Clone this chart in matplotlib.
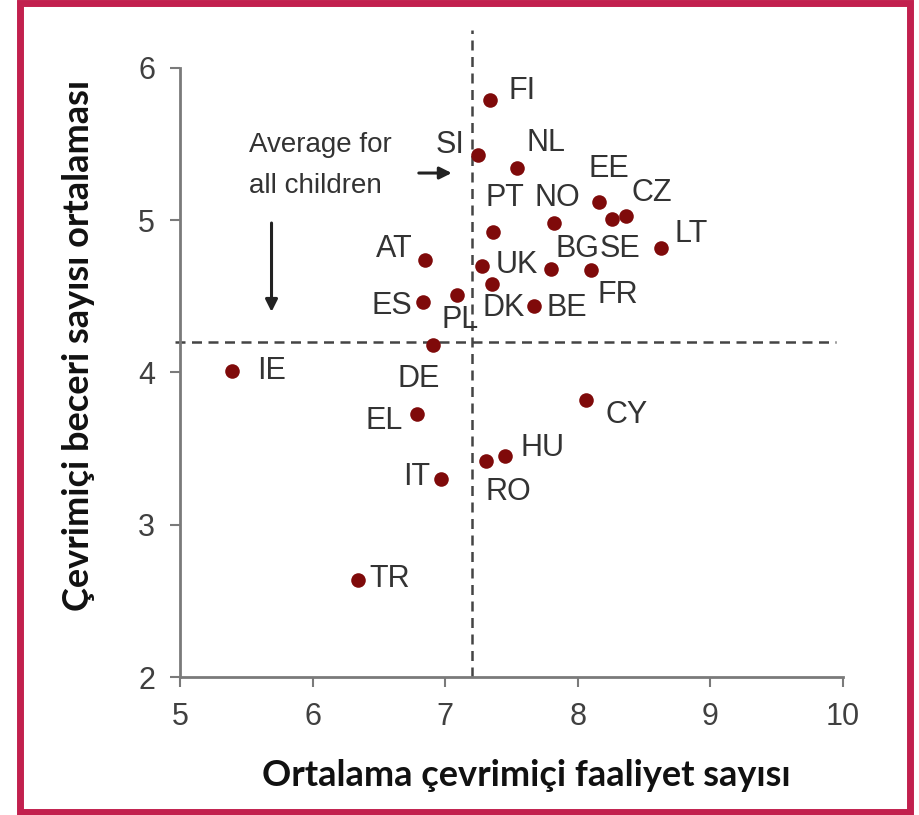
import matplotlib.pyplot as plt
from matplotlib.patches import Rectangle

# data
countries = ['FI', 'SI', 'NL', 'EE', 'CZ', 'SE', 'PT', 'NO', 'BG', 'LT', 'UK', 'FR',
             'DK', 'BE', 'AT', 'ES', 'PL', 'DE', 'IE', 'EL', 'IT', 'RO', 'HU', 'CY', 'TR']
activities = [7.34, 7.25, 7.54, 8.16, 8.36, 8.26, 7.36, 7.82, 7.80, 8.63, 7.28, 8.10,
              7.35, 7.67, 6.85, 6.83, 7.09, 6.91, 5.39, 6.79, 6.97, 7.31, 7.45, 8.06, 6.34]
skills = [5.79, 5.43, 5.34, 5.12, 5.03, 5.01, 4.92, 4.98, 4.68, 4.82, 4.70, 4.67,
          4.58, 4.44, 4.74, 4.46, 4.51, 4.18, 4.01, 3.73, 3.30, 3.42, 3.45, 3.82, 2.64]
avg_activities = 7.2
avg_skills = 4.2

# label offsets in pixels (dx, dy, ha)
offsets = {
    'FI': (18, 9, 'left'), 'SI': (-14, 10, 'right'), 'NL': (10, 25, 'left'),
    'EE': (-11, 33, 'left'), 'CZ': (6, 23, 'left'), 'SE': (8, -30, 'center'),
    'PT': (-7, 34, 'left'), 'NO': (3, 25, 'center'), 'BG': (26, 20, 'center'),
    'LT': (13, 14, 'left'), 'UK': (13, 1, 'left'), 'FR': (27, -25, 'center'),
    'DK': (12, -24, 'center'), 'BE': (12, -2, 'left'), 'AT': (-13, 11, 'right'),
    'ES': (-10, -4, 'right'), 'PL': (3, -25, 'center'), 'DE': (-15, -34, 'center'),
    'IE': (25, 0, 'left'), 'EL': (-14, -7, 'right'), 'IT': (-11, 2, 'right'),
    'RO': (-1, -31, 'left'), 'HU': (16, 8, 'left'), 'CY': (20, -15, 'left'),
    'TR': (12, 1, 'left'),
}

fig = plt.figure(figsize=(9.19, 8.15), dpi=100)
ax = fig.add_axes([0.1959, 0.1693, 0.7214, 0.7473])

ax.scatter(activities, skills, s=110, color='#7f0a0a', zorder=3, linewidths=0)

for c, x, y in zip(countries, activities, skills):
    dx, dy, ha = offsets[c]
    ax.annotate(c, (x, y), xytext=(dx * 0.72, dy * 0.72), textcoords='offset points',
                ha=ha, va='center', fontsize=22, color='#333333', family='Liberation Sans')

# average lines
dash = (0, (4, 2.6))
ax.plot([avg_activities, avg_activities], [2, 6.25], color='#444444', lw=1.8,
        linestyle=dash, clip_on=False, zorder=1)
ax.plot([4.96, 9.95], [avg_skills, avg_skills], color='#444444', lw=1.8,
        linestyle=dash, clip_on=False, zorder=1)

ax.text(5.52, 5.495, 'Average for', fontsize=20, color='#333333',
        family='Liberation Sans', va='center', ha='left')
ax.text(5.52, 5.225, 'all children', fontsize=20, color='#333333',
        family='Liberation Sans', va='center', ha='left')
ax.annotate('', xy=(7.07, 5.31), xytext=(6.78, 5.31),
            arrowprops=dict(arrowstyle='-|>', color='#222222', lw=2.2, mutation_scale=18))
ax.annotate('', xy=(5.69, 4.38), xytext=(5.69, 5.0),
            arrowprops=dict(arrowstyle='-|>', color='#222222', lw=2.2, mutation_scale=18))

ax.set_xlim(5, 10)
ax.set_ylim(2, 6)
ax.set_xticks([5, 6, 7, 8, 9, 10])
ax.set_yticks([2, 3, 4, 5, 6])
for s in ['top', 'right']:
    ax.spines[s].set_visible(False)
for s in ['left', 'bottom']:
    ax.spines[s].set_color('#7a7a7a')
    ax.spines[s].set_linewidth(2)
ax.tick_params(direction='out', length=7, width=1.5, color='#7a7a7a',
               labelsize=22, labelcolor='#404040', pad=11)
for lab in ax.get_xticklabels() + ax.get_yticklabels():
    lab.set_family('Liberation Sans')

ax.set_xlabel('Ortalama çevrimiçi faaliyet sayısı', fontsize=26, fontweight='bold',
              family='Lato', color='#111111')
ax.set_ylabel('Çevrimiçi beceri sayısı ortalaması', fontsize=26, fontweight='bold',
              family='Lato', color='#111111')
ax.xaxis.set_label_coords(0.522, -0.135)
ax.yaxis.set_label_coords(-0.128, 0.545)

# crimson frame
fig.patches.append(Rectangle((20 / 919, 3 / 815), 890 / 919, 809 / 815,
                             transform=fig.transFigure, fill=False,
                             edgecolor='#c2204e', linewidth=5))

fig.savefig('out.png', dpi=100)
